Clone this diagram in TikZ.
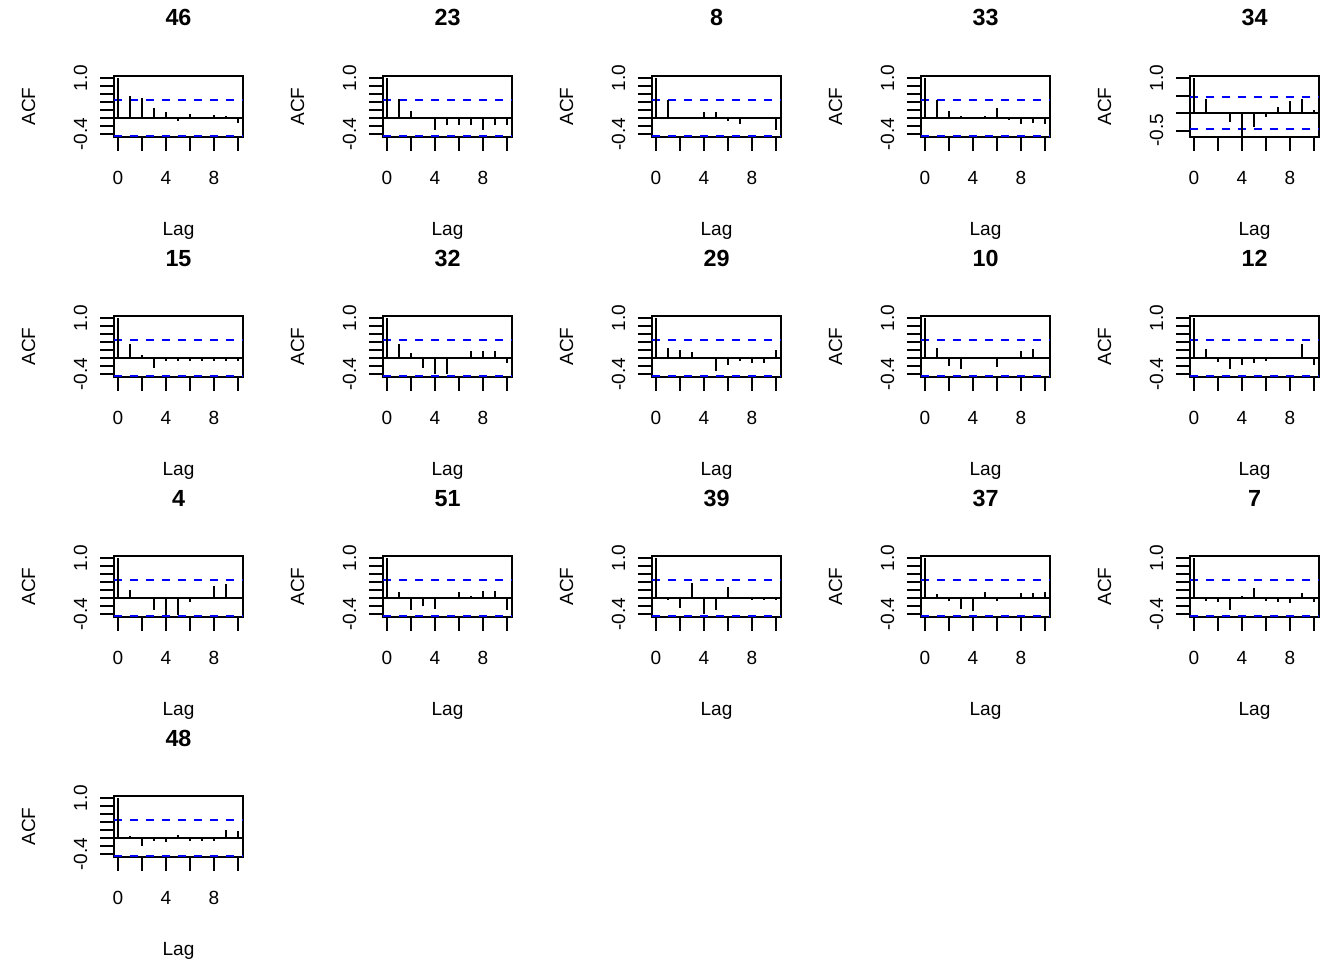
\documentclass[tikz,border=0pt]{standalone}
\usepackage{fontspec}
\setmainfont{Liberation Sans}
\begin{document}
\begin{tikzpicture}[x=0.75pt,y=-0.75pt]
\tikzset{PlotBox/.style={line width=1.5pt},
	LagBar/.style={line width=1.5pt},
	AxisTick/.style={line width=1.5pt},
	BandLine/.style={color=blue,line width=1.5pt,dash pattern=on 6pt off 6pt},
	AxisLabel/.style={font=\fontsize{14.3}{16}\selectfont,inner sep=0pt,anchor=base},
	TitleLabel/.style={font=\fontsize{17.5}{20}\selectfont\bfseries,inner sep=0pt,anchor=base}}
\useasboundingbox (0,0) rectangle (1344,960);
\foreach \name/\col/\row/\zr/\sc/\lo/\st/\vals in {
	46/0/0/118/40/-0.4/0.2/{1,0.54,0.49,0.25,0.14,-0.07,0.09,0.02,0.07,0.04,-0.12},
	23/269/0/118/40/-0.4/0.2/{1,0.48,0.18,-0.02,-0.29,-0.18,-0.18,-0.18,-0.30,-0.18,-0.18},
	8/538/0/118/40/-0.4/0.2/{1,0.44,0.01,0.01,0.15,0.15,-0.08,-0.15,0.01,-0.01,-0.29},
	33/807/0/118/40/-0.4/0.2/{1,0.44,0.17,0.06,-0.02,0.04,0.25,-0.04,-0.15,-0.12,-0.15},
	34/1076/0/113/35/-0.5/0.5/{1,0.40,-0.03,-0.27,-0.68,-0.41,-0.10,0.17,0.34,0.41,0.10},
	15/0/240/118/40/-0.4/0.2/{1,0.36,0.08,-0.25,-0.08,-0.08,-0.08,-0.08,-0.08,-0.08,-0.08},
	32/269/240/118/40/-0.4/0.2/{1,0.36,0.12,-0.25,-0.39,-0.39,-0.01,0.18,0.18,0.18,-0.12},
	29/538/240/118/40/-0.4/0.2/{1,0.25,0.19,0.14,-0.02,-0.33,-0.18,-0.08,-0.12,-0.12,0.19},
	10/807/240/118/40/-0.4/0.2/{1,0.25,-0.21,-0.27,-0.01,0.03,-0.22,0.03,0.17,0.22,-0.02},
	12/1076/240/118/40/-0.4/0.2/{1,0.22,-0.10,-0.28,-0.17,-0.12,-0.08,-0.02,0.02,0.35,-0.17},
	4/0/480/118/40/-0.4/0.2/{1,0.21,-0.03,-0.29,-0.42,-0.42,-0.10,0.01,0.31,0.36,-0.02},
	51/269/480/118/40/-0.4/0.2/{1,0.15,-0.29,-0.21,-0.27,0.01,0.15,0.06,0.17,0.17,-0.29},
	39/538/480/118/40/-0.4/0.2/{1,-0.06,-0.25,0.38,-0.39,-0.31,0.28,-0.02,-0.06,-0.06,-0.06},
	37/807/480/118/40/-0.4/0.2/{1,0.10,-0.08,-0.28,-0.33,0.15,-0.07,0.01,0.13,0.13,0.15},
	7/1076/480/118/40/-0.4/0.2/{1,-0.07,-0.10,-0.30,0.04,0.25,-0.07,-0.10,-0.12,0.12,-0.10},
	48/0/720/118/40/-0.4/0.2/{1,0.04,-0.21,-0.08,-0.10,0.07,-0.08,-0.08,-0.08,0.20,0.18}}{
	\begin{scope}[shift={(\col,\row)}]
		\node[TitleLabel] (t\name) at (178.5,26) {\name};
		\draw[PlotBox] (114,76) rectangle (243,137);
		\draw[LagBar] (114,\zr) -- (243,\zr);
		\draw[BandLine] (114,{round(\zr-0.45*\sc)}) -- (243,{round(\zr-0.45*\sc)});
		\draw[BandLine] (114,{round(\zr+0.45*\sc)}) -- (243,{round(\zr+0.45*\sc)});
		\foreach \v [count=\k from 0] in \vals
			\draw[LagBar] ({118+12*\k},\zr) -- ({118+12*\k},{\zr-\sc*(\v)});
		\foreach \k in {0,2,...,10}
			\draw[AxisTick] ({118+12*\k},137) -- ({118+12*\k},151);
		\foreach \k in {0,4,8}
			\node[AxisLabel] (x\name-\k) at ({118+12*\k},184.3) {\k};
		\pgfmathtruncatemacro\nt{round((1-\lo)/\st)}
		\foreach \k in {0,...,\nt}
			\draw[AxisTick] (100,{round(\zr-\sc*(\lo+\k*\st))}) -- (114,{round(\zr-\sc*(\lo+\k*\st))});
		\node[AxisLabel,rotate=90] (ylo\name) at (87,{\zr-\sc*(\lo)}) {\lo};
		\node[AxisLabel,rotate=90] (yhi\name) at (87,{\zr-\sc}) {1.0};
		\node[AxisLabel,rotate=90] (acf\name) at (35,106.5) {ACF};
		\node[AxisLabel] (lag\name) at (178.5,235) {Lag};
	\end{scope}}
\end{tikzpicture}
\end{document}
